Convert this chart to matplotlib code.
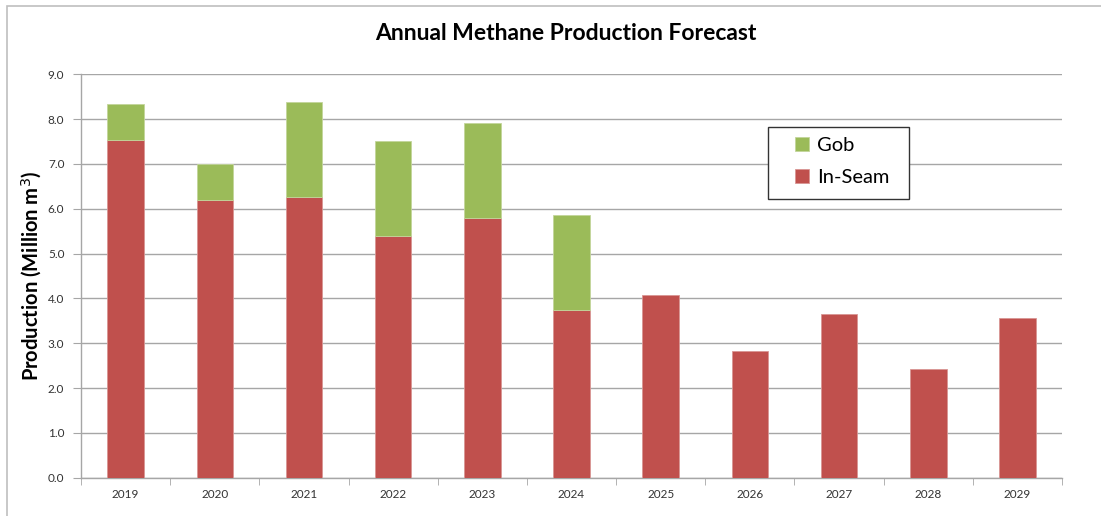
import numpy as np
import matplotlib.pyplot as plt
from matplotlib.patches import Rectangle

years = ['2019', '2020', '2021', '2022', '2023', '2024',
         '2025', '2026', '2027', '2028', '2029']
in_seam = [7.53, 6.20, 6.26, 5.39, 5.80, 3.74, 4.08, 2.83, 3.66, 2.43, 3.56]
gob = [0.81, 0.80, 2.13, 2.11, 2.11, 2.13, 0, 0, 0, 0, 0]

red = '#C0504D'
green = '#9BBB59'
grid_col = '#A6A6A6'

plt.rcParams['font.family'] = ['Lato', 'DejaVu Sans']

fig = plt.figure(figsize=(11.01, 5.16), dpi=100)
ax = fig.add_axes([0.0736, 0.0742, 0.891, 0.782])

x = np.arange(len(years))
ax.bar(x, in_seam, width=0.41, color=red, edgecolor='#D99694', linewidth=0.6,
       label='In-Seam', zorder=3)
gob_edges = ['#C3D69B' if g > 0 else 'none' for g in gob]
ax.bar(x, gob, width=0.41, bottom=in_seam, color=green, edgecolor=gob_edges,
       linewidth=0.6, label='Gob', zorder=3)

ax.set_xlim(-0.5, len(years) - 0.5)
ax.set_ylim(0, 9)
ax.set_yticks(np.arange(0, 9.1, 1.0))
ax.set_yticklabels(['%.1f' % v for v in np.arange(0, 9.1, 1.0)])
ax.yaxis.grid(True, color=grid_col, linewidth=1.0, zorder=0)

ax.set_xticks(x)
ax.set_xticklabels(years)
ax.set_xticks(np.arange(-0.5, len(years), 1.0), minor=True)
ax.tick_params(axis='x', which='major', length=0, pad=8, labelsize=8.5, labelcolor='#333333')
ax.tick_params(axis='x', which='minor', length=5, color=grid_col, direction='out')
ax.tick_params(axis='y', length=6, color=grid_col, pad=6, labelsize=8.5, labelcolor='#333333')

for s in ['top', 'right']:
    ax.spines[s].set_visible(False)
for s in ['left', 'bottom']:
    ax.spines[s].set_color(grid_col)
    ax.spines[s].set_linewidth(1.0)

ax.set_ylabel('Production (Million m$^3$)', fontsize=14.5, fontweight='bold', labelpad=3)
fig.text(0.514, 0.935, 'Annual Methane Production Forecast', ha='center', va='center',
         fontsize=16.5, fontweight='bold')

handles, labels = ax.get_legend_handles_labels()
leg = ax.legend(handles[::-1], labels[::-1], loc='upper left', bbox_to_anchor=(0.728, 0.845),
                fontsize=14.5, frameon=False,
                handlelength=0.7, handleheight=0.7, handletextpad=0.4,
                borderpad=0, labelspacing=0.75, borderaxespad=0)

# legend frame
ax.add_patch(Rectangle((0.7003, 0.691), 0.1437, 0.1785, transform=ax.transAxes,
                       fill=True, facecolor='white', edgecolor='#333333', linewidth=1.0,
                       zorder=4, clip_on=False))
leg.set_zorder(5)

# chart border
fig.patches.append(Rectangle((0.006, -0.01), 1.1, 0.999, transform=fig.transFigure,
                             fill=False, edgecolor='#BFBFBF', linewidth=1.2))

fig.savefig('out.png', dpi=100)
